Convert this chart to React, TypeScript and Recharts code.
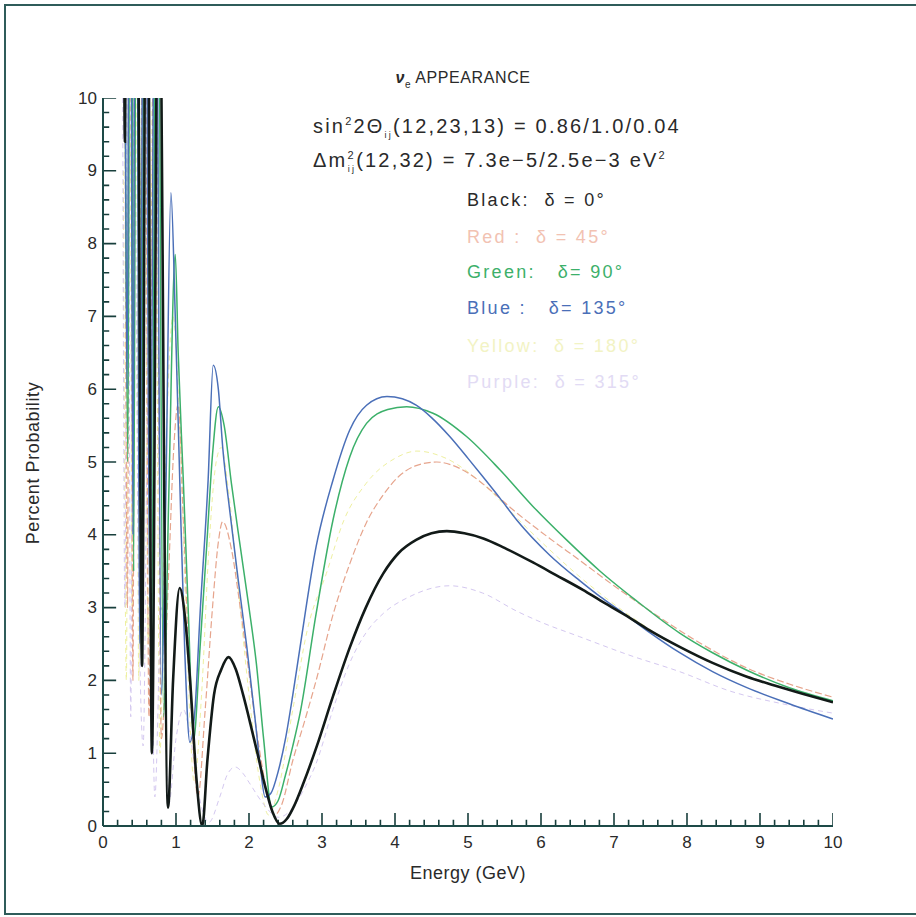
import React from "react";
import { LineChart, Line, XAxis, YAxis } from "recharts";

// energy (GeV) / percent probability
const blackE = [0.28, 0.3, 0.32, 0.4, 0.47, 0.535, 0.6, 0.67, 0.76, 0.89, 0.96, 1.05, 1.13, 1.2, 1.28, 1.36, 1.43, 1.52, 1.62, 1.72, 1.82, 1.92, 2.02, 2.12, 2.22, 2.32, 2.42, 2.52, 2.62, 2.75, 2.93, 3.15, 3.38, 3.6, 3.84, 4.05, 4.29, 4.5, 4.71, 4.95, 5.21, 5.5, 5.89, 6.2, 6.58, 6.81, 7.15, 7.5, 7.9, 8.35, 8.82, 9.2, 9.5, 10];
const blackP = [14, 9.4, 12, 25, 14, 2.2, 16, 1.0, 13, 0.25, 2.0, 3.27, 2.8, 1.9, 0.65, 0.0, 0.9, 1.8, 2.15, 2.32, 2.15, 1.8, 1.4, 0.98, 0.55, 0.2, 0.03, 0.1, 0.28, 0.6, 1.1, 1.78, 2.45, 3.0, 3.47, 3.75, 3.93, 4.02, 4.05, 4.02, 3.95, 3.82, 3.62, 3.45, 3.24, 3.1, 2.9, 2.68, 2.46, 2.24, 2.05, 1.93, 1.84, 1.7];

const redE = [0.3, 0.335, 0.37, 0.41, 0.45, 0.5, 0.56, 0.63, 0.71, 0.8, 0.9, 0.97, 1.03, 1.1, 1.2, 1.3, 1.4, 1.5, 1.58, 1.64, 1.76, 1.88, 2.0, 2.12, 2.25, 2.35, 2.45, 2.6, 2.75, 2.92, 3.15, 3.38, 3.6, 3.84, 4.05, 4.29, 4.57, 4.8, 5.0, 5.3, 5.62, 6.12, 6.53, 7.0, 7.5, 8.2, 8.82, 9.4, 10];
const redP = [10.5, 3, 15, 2, 18, 4, 16, 1.5, 14, 1.2, 3.5, 5.2, 5.8, 4.2, 1.8, 0.4, 1.6, 3.0, 3.9, 4.18, 3.8, 3.0, 2.1, 1.2, 0.45, 0.15, 0.3, 0.9, 1.4, 2.0, 2.9, 3.6, 4.15, 4.55, 4.8, 4.95, 5.0, 4.95, 4.85, 4.62, 4.34, 3.95, 3.65, 3.3, 2.95, 2.5, 2.17, 1.95, 1.77];

const greenE = [0.3, 0.34, 0.38, 0.42, 0.47, 0.52, 0.58, 0.66, 0.74, 0.83, 0.9, 0.99, 1.03, 1.1, 1.17, 1.24, 1.33, 1.42, 1.5, 1.58, 1.66, 1.76, 1.88, 2.0, 2.1, 2.2, 2.31, 2.4, 2.5, 2.6, 2.7, 2.92, 3.15, 3.38, 3.61, 3.9, 4.16, 4.52, 4.98, 5.44, 5.89, 6.35, 6.81, 7.3, 7.9, 8.35, 8.82, 9.4, 10];
const greenP = [11, 5, 17, 3.5, 19, 2.8, 17, 2.0, 15, 1.5, 4.5, 7.85, 6.5, 4.75, 2.9, 1.18, 2.46, 3.84, 5.1, 5.76, 5.5, 4.7, 3.84, 3.0, 2.24, 1.2, 0.26, 0.35, 0.7, 1.1, 1.55, 2.92, 4.2, 5.07, 5.53, 5.72, 5.76, 5.67, 5.35, 4.89, 4.39, 3.93, 3.5, 3.1, 2.65, 2.38, 2.14, 1.9, 1.72];

const blueE = [0.3, 0.33, 0.37, 0.41, 0.45, 0.5, 0.57, 0.64, 0.72, 0.8, 0.86, 0.93, 0.99, 1.05, 1.12, 1.19, 1.26, 1.33, 1.44, 1.51, 1.58, 1.64, 1.74, 1.85, 1.97, 2.08, 2.15, 2.22, 2.3, 2.4, 2.5, 2.6, 2.7, 2.92, 3.15, 3.38, 3.61, 3.89, 4.1, 4.29, 4.5, 4.75, 5.0, 5.21, 5.44, 5.67, 6.12, 6.53, 6.81, 7.12, 7.5, 7.9, 8.35, 8.82, 9.4, 10];
const blueP = [12, 6, 16, 4, 18, 2.5, 17, 3.0, 14, 1.8, 4.5, 8.7, 7.0, 4.8, 2.4, 1.15, 1.6, 2.92, 4.75, 6.33, 6.0, 5.2, 4.3, 3.4, 2.46, 1.5, 0.86, 0.4, 0.45, 0.75, 1.2, 1.8, 2.46, 3.84, 4.75, 5.44, 5.78, 5.9, 5.87, 5.78, 5.61, 5.35, 5.05, 4.79, 4.5, 4.2, 3.72, 3.37, 3.15, 2.93, 2.65, 2.38, 2.12, 1.9, 1.68, 1.47];

const yellowE = [0.28, 0.32, 0.36, 0.4, 0.44, 0.49, 0.55, 0.62, 0.7, 0.78, 0.86, 0.96, 1.05, 1.15, 1.25, 1.35, 1.45, 1.55, 1.62, 1.72, 1.85, 2.0, 2.15, 2.27, 2.4, 2.6, 2.8, 3.06, 3.3, 3.6, 4.0, 4.3, 4.7, 5.2, 5.8, 6.5, 7.2, 8.0, 9.0, 10];
const yellowP = [9, 2, 14, 3, 16, 2, 15, 2.5, 13, 1.0, 5, 7.0, 5.5, 2.5, 0.6, 1.8, 3.8, 5.0, 5.2, 4.6, 3.3, 1.8, 0.6, 0.15, 0.5, 1.6, 2.7, 3.47, 4.2, 4.7, 5.05, 5.15, 5.05, 4.7, 4.1, 3.45, 2.9, 2.4, 2.0, 1.7];

const purpleE = [0.27, 0.3, 0.34, 0.38, 0.42, 0.48, 0.55, 0.62, 0.71, 0.8, 0.9, 1.0, 1.1, 1.2, 1.3, 1.45, 1.6, 1.7, 1.81, 1.92, 2.0, 2.2, 2.4, 2.6, 2.75, 2.92, 3.15, 3.38, 3.6, 3.84, 4.2, 4.75, 5.2, 5.67, 6.0, 6.53, 7.2, 7.9, 8.6, 9.3, 10];
const purpleP = [10, 3, 12, 1.5, 11, 4, 1.1, 6, 0.4, 3, 0.3, 1.2, 1.6, 1.2, 0.5, 0.05, 0.4, 0.7, 0.81, 0.72, 0.6, 0.3, 0.12, 0.25, 0.5, 0.86, 1.6, 2.24, 2.65, 2.92, 3.15, 3.3, 3.2, 2.95, 2.8, 2.6, 2.35, 2.12, 1.85, 1.68, 1.55];

const xLabels = [0, 1, 2, 3, 4, 5, 6, 7, 8, 9, 10];
const yLabels = [0, 1, 2, 3, 4, 5, 6, 7, 8, 9, 10];
// 4 minor ticks between labelled ones
const minorTicks = Array.from({ length: 51 }, (_, i) => Math.round(i * 2) / 10);

const toPoints = (e: number[], p: number[]) => e.map((x, i) => ({ e: x, p: p[i] }));

const isMajor = (v: number) => Math.abs(v - Math.round(v)) < 1e-6;
// inward tick marks as short broken segments in axis units (13px major / 6px minor)
const xTickMarks = minorTicks.flatMap((v) => [
  { e: v, p: 0 },
  { e: v, p: isMajor(v) ? 0.18 : 0.085 },
  { e: v, p: null },
]);
const yTickMarks = minorTicks.flatMap((v) => [
  { e: 0, p: v },
  { e: isMajor(v) ? 0.18 : 0.085, p: v },
  { e: 0, p: null },
]);

const AXIS = "#1d4a47";
const FONT = "'Liberation Sans', Arial, sans-serif";
const TEXT = "#2a2a2a";

const XLabel = (props: any) => {
  const { x, y, payload } = props;
  return (
    <text x={x} y={y + 16} textAnchor="middle" dominantBaseline="central" fontFamily={FONT} fontSize={17} fill={TEXT}>
      {payload.value}
    </text>
  );
};

const YLabel = (props: any) => {
  const { x, y, payload } = props;
  return (
    <text x={x - 6} y={y} textAnchor="end" dominantBaseline="central" fontFamily={FONT} fontSize={17} fill={TEXT}>
      {payload.value}
    </text>
  );
};

const Txt = ({ left, cy, color = TEXT, size = 19, spacing = 2.2, children }: any) => (
  <div
    style={{
      position: "absolute",
      left,
      top: cy,
      transform: "translateY(-50%)",
      color,
      fontSize: size,
      fontFamily: FONT,
      letterSpacing: spacing,
      whiteSpace: "pre",
      lineHeight: 1,
    }}
  >
    {children}
  </div>
);

const series = [
  { name: "yellow", e: yellowE, p: yellowP, color: "#eef0a0", width: 1, dash: "5 4" },
  { name: "purple", e: purpleE, p: purpleP, color: "#d4c8f0", width: 1, dash: "5 4" },
  { name: "red", e: redE, p: redP, color: "#e6a48c", width: 1.2, dash: "7 3" },
  { name: "green", e: greenE, p: greenP, color: "#3cb06a", width: 1.5 },
  { name: "blue", e: blueE, p: blueP, color: "#4a6fb8", width: 1.5 },
  { name: "black", e: blackE, p: blackP, color: "#121a18", width: 2.6 },
];

export default function App() {
  return (
    <div style={{ position: "absolute", left: 0, top: 0, width: 916, height: 917, background: "#fff", overflow: "hidden" }}>
      <div
        style={{
          position: "absolute",
          left: 4,
          top: 4,
          width: 920,
          height: 907,
          borderTop: "2px solid #2f5c5a",
          borderLeft: "2px solid #2f5c5a",
          borderBottom: "2px solid #2f5c5a",
        }}
      />
      <LineChart width={916} height={917} margin={{ top: 98, right: 83, bottom: 51, left: 0 }}>
        <XAxis
          dataKey="e"
          type="number"
          domain={[0, 10]}
          ticks={xLabels}
          interval={0}
          allowDataOverflow
          height={40}
          tickSize={0}
          tickMargin={0}
          tickLine={false}
          tick={XLabel}
          axisLine={{ stroke: AXIS, strokeWidth: 2 }}
        />
        <XAxis
          xAxisId="top"
          orientation="top"
          type="number"
          domain={[0, 10]}
          height={0}
          tick={false}
          tickLine={false}
          axisLine={{ stroke: AXIS, strokeWidth: 2 }}
        />
        <YAxis
          type="number"
          domain={[0, 10]}
          ticks={yLabels}
          interval={0}
          allowDataOverflow
          width={103}
          tickSize={0}
          tickMargin={0}
          tickLine={false}
          tick={YLabel}
          axisLine={{ stroke: AXIS, strokeWidth: 2 }}
        />
        <YAxis
          yAxisId="right"
          orientation="right"
          type="number"
          domain={[0, 10]}
          width={0}
          tick={false}
          tickLine={false}
          axisLine={{ stroke: AXIS, strokeWidth: 2 }}
        />
        <Line
          name="xTicks"
          data={xTickMarks}
          dataKey="p"
          type="linear"
          stroke="#183f3c"
          strokeWidth={1.6}
          dot={false}
          activeDot={false}
          isAnimationActive={false}
        />
        <Line
          name="yTicks"
          data={yTickMarks}
          dataKey="p"
          type="linear"
          stroke="#183f3c"
          strokeWidth={1.6}
          dot={false}
          activeDot={false}
          isAnimationActive={false}
        />
        {series.map((s) => (
          <Line
            key={s.name}
            data={toPoints(s.e, s.p)}
            dataKey="p"
            type="monotone"
            stroke={s.color}
            strokeWidth={s.width}
            strokeDasharray={s.dash}
            dot={false}
            activeDot={false}
            isAnimationActive={false}
          />
        ))}
      </LineChart>

      <div
        style={{
          position: "absolute",
          left: 463,
          top: 80,
          transform: "translate(-50%, -50%)",
          fontFamily: FONT,
          fontSize: 16,
          letterSpacing: 0.6,
          color: TEXT,
          whiteSpace: "pre",
          lineHeight: 1,
        }}
      >
        <span style={{ fontStyle: "italic", fontWeight: 700 }}>ν</span>
        <sub style={{ fontSize: 10 }}>e</sub> APPEARANCE
      </div>

      <Txt left={313} cy={128} size={20}>
        sin<sup style={{ fontSize: 11 }}>2</sup>2Θ<sub style={{ fontSize: 9 }}>ij</sub>(12,23,13) = 0.86/1.0/0.04
      </Txt>
      <Txt left={313} cy={162} size={20}>
        Δm<sup style={{ fontSize: 11 }}>2</sup>
        <sub style={{ fontSize: 9, marginLeft: -8 }}>ij</sub>(12,32) = 7.3e−5/2.5e−3 eV<sup style={{ fontSize: 11 }}>2</sup>
      </Txt>

      <Txt left={467} cy={200} size={18} spacing={2.3}>{"Black:  δ = 0°"}</Txt>
      <Txt left={467} cy={237} size={18} spacing={2.3} color="#f2c2b2">{"Red :  δ = 45°"}</Txt>
      <Txt left={467} cy={272} size={18} spacing={2.3} color="#3cb06a">{"Green:   δ= 90°"}</Txt>
      <Txt left={467} cy={308} size={18} spacing={2.3} color="#4a6fb8">{"Blue :   δ= 135°"}</Txt>
      <Txt left={467} cy={346} size={18} spacing={2.3} color="#f2f3c4">{"Yellow:  δ = 180°"}</Txt>
      <Txt left={467} cy={382} size={18} spacing={2.3} color="#e2dbf4">{"Purple:  δ = 315°"}</Txt>

      <div
        style={{
          position: "absolute",
          left: 33,
          top: 463,
          transform: "translate(-50%, -50%) rotate(-90deg)",
          fontFamily: FONT,
          fontSize: 18,
          letterSpacing: 0.6,
          color: TEXT,
          whiteSpace: "nowrap",
        }}
      >
        Percent Probability
      </div>
      <div
        style={{
          position: "absolute",
          left: 468,
          top: 873,
          transform: "translate(-50%, -50%)",
          fontFamily: FONT,
          fontSize: 18,
          letterSpacing: 0.5,
          color: TEXT,
          whiteSpace: "nowrap",
        }}
      >
        Energy (GeV)
      </div>
    </div>
  );
}
